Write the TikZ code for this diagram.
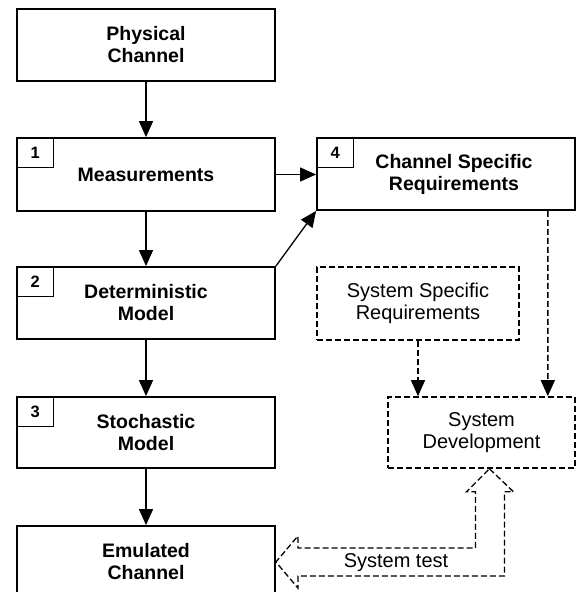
\documentclass[tikz,border=0pt]{standalone}
\usepackage{fontspec}
\setmainfont{Liberation Sans}
\usetikzlibrary{arrows.meta,calc}

\tikzset{
  box/.style={draw, line width=1.8pt, rectangle, minimum width=258pt, minimum height=72pt,
    align=center, font=\fontsize{19.5}{22}\selectfont\bfseries, inner sep=0pt},
  dbox/.style={draw, line width=1.6pt, dash pattern=on 6pt off 3pt, rectangle,
    align=center, font=\fontsize{20}{22}\selectfont, inner sep=0pt},
  numbox/.style={draw, line width=1.3pt, rectangle, minimum width=37pt, minimum height=30pt,
    anchor=north west, font=\fontsize{16.5}{18}\selectfont\bfseries, inner sep=0pt},
  flow/.style={line width=1.3pt, -{Triangle[length=16pt,width=14pt]}},
  dflow/.style={flow, line width=1.4pt, dash pattern=on 6pt off 3pt},
  hollow/.style={draw, line width=1.3pt, dash pattern=on 6pt off 3pt, line join=miter},
}

\begin{document}
\begin{tikzpicture}[x=1pt,y=1pt]
  \useasboundingbox (0,0) rectangle (576,-592);

  % main chain of processing steps
  \node[box] (pc) at (146,-45) {Physical\\Channel};
  \node[box, minimum height=73pt] (meas) at (146,-174.5) {Measurements};
  \node[box] (det) at (146,-303) {Deterministic\\Model};
  \node[box, minimum height=71pt] (stoch) at (146,-432.5) {Stochastic\\Model};
  \node[box] (emu) at (146,-562) {Emulated\\Channel};

  % requirements and development
  \node[box] (csr) at (446,-174) {\hspace*{16pt}Channel Specific\\\hspace*{16pt}Requirements};
  \node[dbox, minimum width=202pt, minimum height=73pt] (ssr) at (418,-303.5) {System Specific\\Requirements};
  \node[dbox, minimum width=187pt, minimum height=71pt] (sd) at (481.5,-432.5) {System\\Development};

  % step numbers
  \node[numbox] (n1) at (meas.north west) {1};
  \node[numbox] (n2) at (det.north west) {2};
  \node[numbox] (n3) at (stoch.north west) {3};
  \node[numbox] (n4) at (csr.north west) {4};

  % connectors
  \draw[flow] (pc.south) -- (meas.north);
  \draw[flow] (meas.south) -- (det.north);
  \draw[flow] (det.south) -- (stoch.north);
  \draw[flow] (stoch.south) -- (emu.north);
  \draw[flow] (meas.east) -- (meas.east -| csr.west);
  \draw[flow] (det.north east) -- (csr.south west);
  \draw[dflow] (ssr.south) -- (ssr.south |- sd.north);
  \draw[dflow] ([xshift=-28pt]csr.south east) -- ([xshift=-28pt]sd.north east);

  % hollow feedback arrow: system test
  \coordinate (ta) at ([xshift=8pt]sd.south);
  \coordinate (tb) at (emu.east);
  \draw[hollow] (ta) -- ++(24,-23) -- ++(-9,0)
    |- ([xshift=22pt,yshift=-14pt]tb) -- ++(0,-12) -- (tb) -- ++(22,26) -- ++(0,-12)
    -| ([xshift=-14pt,yshift=-23pt]ta) -- ++(-9,0) -- cycle;
  \node[font=\fontsize{20}{22}\selectfont] (st) at (396,-563) {System test};
\end{tikzpicture}
\end{document}
